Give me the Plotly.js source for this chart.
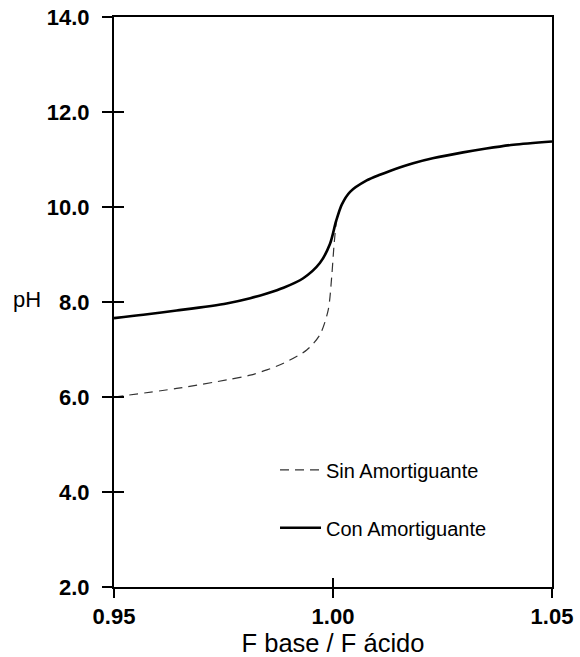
<!DOCTYPE html>
<html>
<head>
<meta charset="utf-8">
<script src="https://cdn.plot.ly/plotly-3.0.1.min.js"></script>
<style>
  html, body { margin: 0; padding: 0; background: #fff; }
  #chart { width: 580px; height: 657px; }
</style>
</head>
<body>
<div id="chart"></div>
<script>
// Titration curves: pH versus ratio F base / F ácido
const xSin = [0.950, 0.9643, 0.9757, 0.9811, 0.9849, 0.9887, 0.9940, 0.9970, 0.9989, 0.9997, 1.0002, 1.0007];
const phSin = [6.00, 6.18, 6.36, 6.46, 6.57, 6.71, 6.99, 7.31, 7.83, 8.53, 9.16, 9.66];

const xCon = [0.950, 0.9567, 0.9643, 0.9757, 0.9811, 0.9849, 0.9887, 0.9932, 0.9970, 0.9993, 1.0007, 1.0020,
              1.0039, 1.0077, 1.0107, 1.0130, 1.0183, 1.0230, 1.0297, 1.0350, 1.0412, 1.0500];
const phCon = [7.66, 7.73, 7.82, 7.97, 8.08, 8.18, 8.30, 8.50, 8.82, 9.22, 9.70, 10.05,
               10.32, 10.56, 10.68, 10.76, 10.92, 11.03, 11.15, 11.23, 11.31, 11.38];

const seriesNames = ['Sin Amortiguante', 'Con Amortiguante'];
const xTicks = [0.95, 1.00, 1.05];
const yTicks = [2, 4, 6, 8, 10, 12, 14];
const xRange = [0.95, 1.05];
const yRange = [2, 14];

const FONT = 'Liberation Sans, Arial, sans-serif';

const traces = [
  {
    x: xSin, y: phSin, name: seriesNames[0], legendgroup: 'a',
    mode: 'lines', line: { color: '#333', width: 1.2, dash: '9px,6px', shape: 'spline', smoothing: 0.8 },
    hoverinfo: 'skip'
  },
  {
    x: xCon, y: phCon, name: seriesNames[1], legendgroup: 'b',
    mode: 'lines', line: { color: '#000', width: 2.6, shape: 'spline', smoothing: 0.8 },
    hoverinfo: 'skip'
  },
  // carrier for the overlay axes that draw the inner half of each tick
  {
    x: xRange, y: yRange, xaxis: 'x2', yaxis: 'y2', mode: 'none',
    showlegend: false, hoverinfo: 'skip'
  }
];

const axisCommon = { showgrid: false, zeroline: false, tickcolor: '#000', tickwidth: 2 };

const layout = {
  width: 580, height: 657,
  margin: { l: 114, r: 28, t: 17, b: 70 },
  paper_bgcolor: '#fff', plot_bgcolor: '#fff',
  font: { family: FONT, color: '#000' },
  showlegend: true,
  legend: {
    x: 0.3676, y: 0.2398, xanchor: 'left', yanchor: 'top',
    bgcolor: 'rgba(0,0,0,0)', borderwidth: 0,
    traceorder: 'grouped', tracegroupgap: 29, itemwidth: 41,
    font: { family: FONT, size: 20, color: '#000' }
  },
  xaxis: Object.assign({}, axisCommon, {
    range: xRange, tickvals: xTicks, tickformat: '.2f',
    ticks: 'outside', ticklen: 9,
    showline: true, linecolor: '#000', linewidth: 2, mirror: true,
    tickfont: { family: FONT, size: 22, color: '#000', weight: 'bold' },
    title: { text: 'F base / F ácido', font: { family: FONT, size: 25.5, color: '#000' }, standoff: 4 }
  }),
  yaxis: Object.assign({}, axisCommon, {
    range: yRange, tickvals: yTicks, tickformat: '.1f',
    ticks: 'outside', ticklen: 10, ticklabelstandoff: 8,
    showline: true, linecolor: '#000', linewidth: 2, mirror: true,
    tickfont: { family: FONT, size: 22, color: '#000', weight: 'bold' }
  }),
  xaxis2: Object.assign({}, axisCommon, {
    overlaying: 'x', anchor: 'y', side: 'bottom',
    range: xRange, tickvals: xTicks, ticks: 'inside', ticklen: 9,
    showticklabels: false, showline: false
  }),
  yaxis2: Object.assign({}, axisCommon, {
    overlaying: 'y', anchor: 'x', side: 'left',
    range: yRange, tickvals: yTicks, ticks: 'inside', ticklen: 10,
    showticklabels: false, showline: false
  }),
  annotations: [
    {
      text: 'pH', xref: 'paper', yref: 'y', x: -0.199, y: 8.05,
      xanchor: 'center', yanchor: 'middle', showarrow: false,
      font: { family: FONT, size: 22, color: '#000' }
    }
  ]
};

Plotly.newPlot('chart', traces, layout, { staticPlot: true, displayModeBar: false });
</script>
</body>
</html>
